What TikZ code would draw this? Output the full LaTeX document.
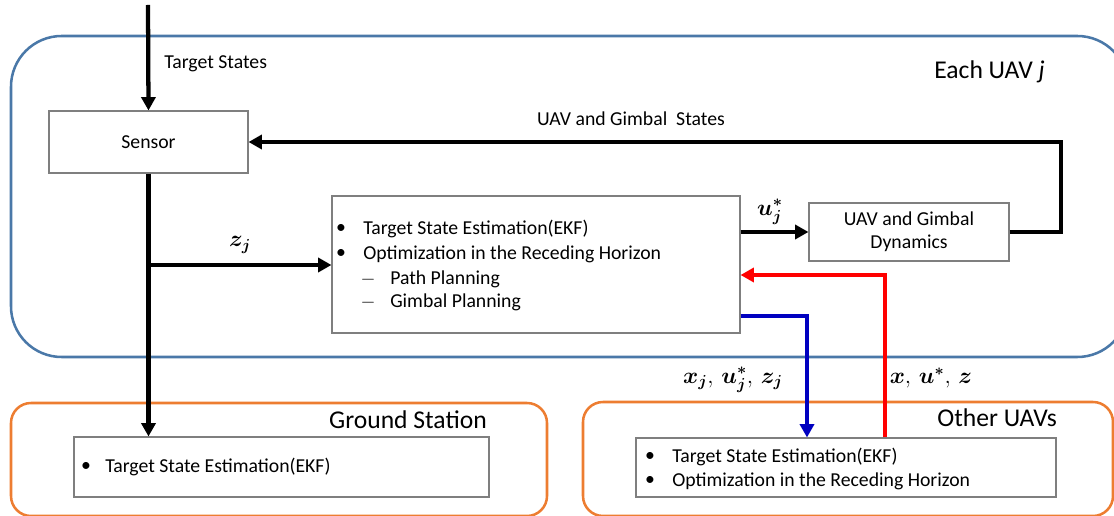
\documentclass[tikz,border=0pt]{standalone}
\usepackage{amsmath,amssymb,bm}
\usepackage{fontspec}
\setmainfont{Carlito}
\usetikzlibrary{arrows.meta,calc}
\definecolor{uavblue}{HTML}{4A78A8}
\definecolor{gsorange}{HTML}{ED7D31}
\definecolor{boxgray}{HTML}{7F7F7F}
\definecolor{sigblue}{HTML}{0000C0}
\tikzset{
  box/.style={draw=boxgray,line width=0.8pt,fill=white,minimum width=#1,inner sep=0pt},
  lbl/.style={inner sep=0pt,font=\fontsize{14.8}{17.5}\selectfont},
  small/.style={inner sep=0pt,font=\fontsize{14.8}{17.5}\selectfont},
  big/.style={inner sep=0pt,font=\fontsize{19.2}{22}\selectfont},
  mathlbl/.style={inner sep=0pt,font=\fontsize{17}{19}\selectfont},
  arr/.style={line width=3.2pt,-{Triangle[length=10pt,width=10.5pt]}},
  group/.style={line width=1.9pt,rounded corners=#1},
}
\begin{document}
\begin{tikzpicture}[x=0.75pt,y=-0.75pt]
\useasboundingbox (0,0) rectangle (1114,516);
\clip (0,0) rectangle (1114,516);
% group frames
\draw[group=38pt,draw=uavblue] (11,36) rectangle (1128,357);
\draw[group=15pt,draw=gsorange] (11,403) rectangle (547,516);
\draw[group=15pt,draw=gsorange] (583,402) rectangle (1113,516);
\node[big,anchor=east] (eachuav) at (1045,72) {Each UAV \textit{j}};
\node[big,anchor=east] (gstitle) at (487,420) {Ground Station};
\node[big,anchor=east] (outitle) at (1057,418) {Other UAVs};
% blocks
\node[box=199*0.75pt,minimum height=62*0.75pt,lbl] (sensor) at (148.5,142) {Sensor};
\node[box=408*0.75pt,minimum height=137*0.75pt] (mid) at (536,264.5) {};
\node[box=200*0.75pt,minimum height=58*0.75pt,lbl,align=center] (dyn) at (909,232) {UAV and Gimbal\\Dynamics};
\node[box=415*0.75pt,minimum height=60*0.75pt] (gsin) at (281.5,467) {};
\node[box=420*0.75pt,minimum height=59*0.75pt] (ouin) at (846,467.5) {};
% texts of the middle block
\node[lbl,anchor=center] (mb1) at (341,229) {\textbullet};
\node[lbl,anchor=west] (mt1) at (363,229) {Target State Estimation(EKF)};
\node[lbl,anchor=center] (mb2) at (341,254) {\textbullet};
\node[lbl,anchor=west] (mt2) at (363,254) {Optimization in the Receding Horizon};
\node[lbl,anchor=center] (md3) at (368,280) {$-$};
\node[lbl,anchor=west] (mt3) at (390,279) {Path Planning};
\node[lbl,anchor=center] (md4) at (368,303) {$-$};
\node[lbl,anchor=west] (mt4) at (390,302) {Gimbal Planning};
% ground station texts
\node[lbl,anchor=center] (gb1) at (86,467) {\textbullet};
\node[lbl,anchor=west] (gt1) at (105,467) {Target State Estimation(EKF)};
% other UAVs texts
\node[lbl,anchor=center] (ob1) at (650,457) {\textbullet};
\node[lbl,anchor=west] (ot1) at (672,457) {Target State Estimation(EKF)};
\node[lbl,anchor=center] (ob2) at (650,481) {\textbullet};
\node[lbl,anchor=west] (ot2) at (672,481) {Optimization in the Receding Horizon};
% connectors
\coordinate (top) at (148,5);
\draw[arr] (top) -- (sensor.north);
\node[small,anchor=west] (tslabel) at (164,64) {Target States};
\draw[arr] (sensor.south) -- (sensor.south |- gsin.north);
\coordinate (br) at (148,265);
\draw[arr] (br) -- (mid.west |- br);
\node[mathlbl] (zlabel) at (240,245) {$\bm{z_j}$};
\draw[arr] (mid.east |- dyn.west) -- (dyn.west);
\node[mathlbl] (ulabel) at (770,212) {$\bm{u_j^{*}}$};
\coordinate (fbr) at (1061,232);
\draw[arr] (dyn.east) -- (fbr) |- (sensor.east);
\node[small] (fblabel) at (631,119) {UAV and Gimbal\ \ States};
% red and blue
\coordinate (r1) at (885,275);
\draw[arr,red] (ouin.north -| r1) -- (r1) -- (mid.east |- r1);
\coordinate (b1) at (807,316);
\draw[arr,sigblue] (mid.east |- b1) -- (b1) -- (b1 |- ouin.north);
\node[mathlbl] (sendlabel) at (733,380) {$\bm{x_j},\,\bm{u_j^{*}},\,\bm{z_j}$};
\node[mathlbl] (recvlabel) at (931,378) {$\bm{x},\,\bm{u^{*}},\,\bm{z}$};
\end{tikzpicture}
\end{document}
